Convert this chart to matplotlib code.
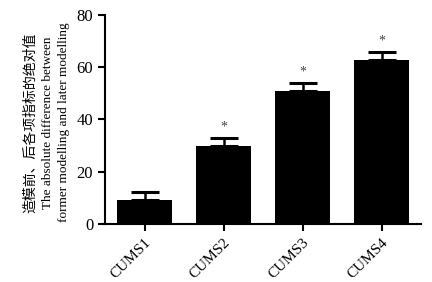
import matplotlib
matplotlib.use("Agg")
import matplotlib.pyplot as plt

categories = ["CUMS1", "CUMS2", "CUMS3", "CUMS4"]
values = [9.2, 29.9, 51.0, 62.8]
errors = [3.0, 3.0, 3.0, 3.0]
significant = [False, True, True, True]
yticks = [0, 20, 40, 60, 80]

serif = ["Liberation Serif", "DejaVu Serif"]
plt.rcParams["font.family"] = serif

fig = plt.figure(figsize=(4.32, 2.82), dpi=100)
ax = fig.add_axes([0.243, 0.206, 0.732, 0.741])

x = list(range(len(categories)))
ax.bar(x, values, width=0.7, color="black", zorder=2)
ax.errorbar(x, values, yerr=[[0]*len(errors), errors], fmt="none", ecolor="black",
            elinewidth=1.8, capsize=10, capthick=2.2, zorder=1)
for xi, v, e, s in zip(x, values, errors, significant):
    if s:
        ax.text(xi, v + e + 4.2, "*", ha="center", va="center", fontsize=10, color="#444444")

ax.set_xlim(-0.5, 3.5)
ax.set_ylim(0, 80)
ax.set_yticks(yticks)
ax.set_xticks(x)
ax.set_xticklabels(categories, rotation=45, ha="right", rotation_mode="anchor", fontsize=11)
ax.tick_params(axis="y", labelsize=12, width=1.5, length=5)
ax.tick_params(axis="x", width=1.5, length=5)
for side in ["top", "right"]:
    ax.spines[side].set_visible(False)
for side in ["left", "bottom"]:
    ax.spines[side].set_linewidth(1.5)

fig.text(0.07, 0.565, "造模前、后各项指标的绝对值", rotation=90, ha="center", va="center",
         fontsize=10, family=["Noto Sans CJK SC", "DejaVu Sans"])
fig.text(0.11, 0.565, "The absolute difference between", rotation=90, ha="center", va="center",
         fontsize=9.5)
fig.text(0.147, 0.565, "former modelling and later modelling", rotation=90, ha="center", va="center",
         fontsize=9.5)

fig.savefig("out.png", dpi=100)
